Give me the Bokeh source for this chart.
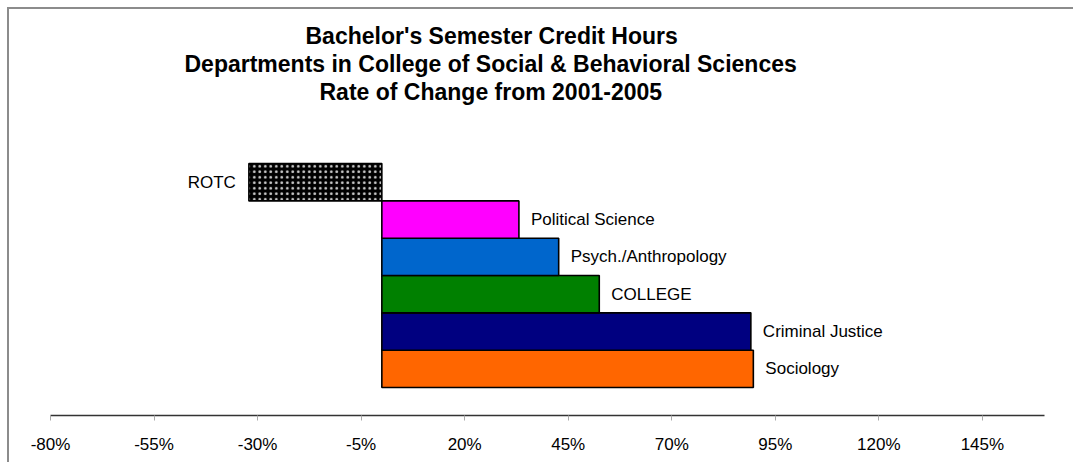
from bokeh.plotting import figure
from bokeh.models import Range1d, FixedTicker, PrintfTickFormatter, ColumnDataSource, Title
from bokeh.core.properties import value
from bokeh.embed import file_html
from bokeh.resources import INLINE

# Data (bottom to top)
categories = ["Sociology", "Criminal Justice", "COLLEGE", "Psych./Anthropology", "Political Science", "ROTC"]
rates = [89.7, 89.1, 52.5, 42.7, 33.1, -32.1]
colors = ["#FF6600", "#000080", "#008000", "#0066CC", "#FF00FF", "#000000"]
hatches = [" ", " ", " ", " ", " ", "dot"]
tick_values = [-80, -55, -30, -5, 20, 45, 70, 95, 120, 145]
title_lines = ["Bachelor's Semester Credit Hours",
               "Departments in College of Social & Behavioral Sciences",
               "Rate of Change from 2001-2005"]
title_offsets = [255, 134, 269]  # left offsets so each line is centred near x=490

FONT = "Liberation Sans"

positions = list(range(len(categories)))
src = ColumnDataSource(dict(y=positions, cat=categories, v=rates, c=colors, h=hatches))

p = figure(width=1066, height=455,
           x_range=Range1d(-80, 160), y_range=Range1d(-1.25, 7.082),
           output_backend="svg", toolbar_location=None, y_axis_location=None,
           min_border_left=41, min_border_right=31, min_border_top=95, min_border_bottom=49,
           outline_line_color=None, background_fill_color="white", border_fill_color="white",
           styles={"margin": "9px 0 0 9px", "box-shadow": "-2px -2px 0 0 #8c8c8c"})

for line, off in reversed(list(zip(title_lines, title_offsets))):
    t = Title(text=line, align="left", offset=off, text_font=FONT, text_font_size="23px",
              text_font_style="bold", text_color="black", standoff=0)
    p.add_layout(t, "above")

p.xgrid.visible = False
p.ygrid.visible = False

p.hbar(y="y", left=0, right="v", height=1, source=src,
       fill_color="c", line_color="black", line_width=1.6,
       hatch_pattern="h", hatch_color="#d0d0d0", hatch_scale=5.5, hatch_weight=1.0)

pos_idx = [i for i, r in enumerate(rates) if r >= 0]
neg_idx = [i for i, r in enumerate(rates) if r < 0]
pos_src = ColumnDataSource(dict(x=[rates[i] for i in pos_idx], y=[positions[i] for i in pos_idx],
                                t=[categories[i] for i in pos_idx]))
neg_src = ColumnDataSource(dict(x=[rates[i] for i in neg_idx], y=[positions[i] for i in neg_idx],
                                t=[categories[i] for i in neg_idx]))
p.text(x="x", y="y", text="t", source=pos_src, x_offset=12, text_align="left",
       text_baseline="middle", text_font=value(FONT), text_font_size="17px", text_color="black")
p.text(x="x", y="y", text="t", source=neg_src, x_offset=-13, text_align="right",
       text_baseline="middle", text_font=value(FONT), text_font_size="17px", text_color="black")

ax = p.xaxis[0]
ax.ticker = FixedTicker(ticks=tick_values)
ax.formatter = PrintfTickFormatter(format="%d%%")
ax.axis_line_color = "#333333"
ax.axis_line_width = 1.5
ax.major_tick_line_color = "#aaaaaa"
ax.major_tick_in = 0
ax.major_tick_out = 5
ax.minor_tick_line_color = None
ax.major_label_text_font = FONT
ax.major_label_text_font_size = "17px"
ax.major_label_text_color = "black"
ax.major_label_standoff = 14

open("out.html", "w").write(file_html(p, INLINE))
